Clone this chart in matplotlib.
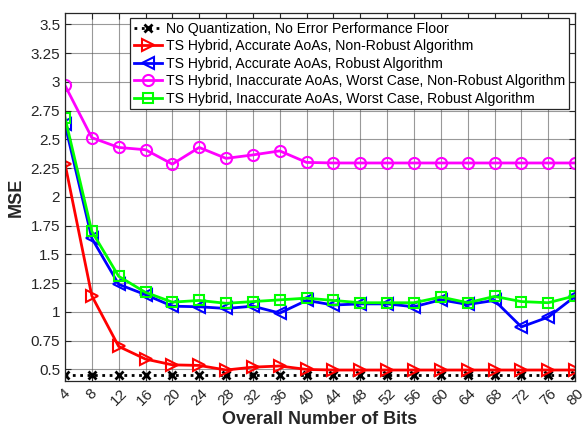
import matplotlib.pyplot as plt

# Data
bits = [4, 8, 12, 16, 20, 24, 28, 32, 36, 40, 44, 48, 52, 56, 60, 64, 68, 72, 76, 80]

floor_mse = [0.45] * len(bits)
acc_nonrobust = [2.29, 1.14, 0.70, 0.59, 0.54, 0.535, 0.495, 0.52, 0.53, 0.50,
                 0.495, 0.495, 0.495, 0.495, 0.495, 0.495, 0.495, 0.495, 0.495, 0.495]
acc_robust = [2.63, 1.64, 1.24, 1.15, 1.05, 1.045, 1.03, 1.05, 0.99, 1.10,
              1.06, 1.07, 1.07, 1.045, 1.105, 1.065, 1.10, 0.87, 0.955, 1.135]
inacc_nonrobust = [2.97, 2.515, 2.43, 2.41, 2.285, 2.43, 2.335, 2.365, 2.40, 2.30,
                   2.295, 2.295, 2.295, 2.295, 2.295, 2.295, 2.295, 2.295, 2.295, 2.295]
inacc_robust = [2.69, 1.70, 1.31, 1.17, 1.085, 1.10, 1.075, 1.09, 1.105, 1.12,
                1.10, 1.08, 1.08, 1.08, 1.13, 1.08, 1.135, 1.09, 1.08, 1.14]

labels = [
    'No Quantization, No Error Performance Floor',
    'TS Hybrid, Accurate AoAs, Non-Robust Algorithm',
    'TS Hybrid, Accurate AoAs, Robust Algorithm',
    'TS Hybrid, Inaccurate AoAs, Worst Case, Non-Robust Algorithm',
    'TS Hybrid, Inaccurate AoAs, Worst Case, Robust Algorithm',
]

plt.rcParams['font.family'] = ['Liberation Sans', 'DejaVu Sans']

fig = plt.figure(figsize=(5.88, 4.29), dpi=100)
ax = fig.add_axes([0.1105, 0.112, 0.8675, 0.858])

ax.plot(bits, floor_mse, color='black', linestyle=':', linewidth=2,
        marker='x', markersize=6, markeredgewidth=2, label=labels[0])
ax.plot(bits, acc_nonrobust, color='#ff0000', linewidth=2, marker='>',
        markersize=8, markerfacecolor='none', markeredgewidth=1.5, label=labels[1])
ax.plot(bits, acc_robust, color='#0000ff', linewidth=2, marker='<',
        markersize=8, markerfacecolor='none', markeredgewidth=1.5, label=labels[2])
ax.plot(bits, inacc_nonrobust, color='#ff00ff', linewidth=2, marker='o',
        markersize=8, markerfacecolor='none', markeredgewidth=1.5, label=labels[3])
ax.plot(bits, inacc_robust, color='#00ff00', linewidth=2, marker='s',
        markersize=6.5, markerfacecolor='none', markeredgewidth=1.5, label=labels[4])

ax.set_xlim(4, 80)
ax.set_ylim(0.4, 3.6)
ax.set_xticks(bits)
ax.set_xticklabels([str(b) for b in bits], rotation=45, ha='center', fontsize=11)
yt = [0.5, 0.75, 1, 1.25, 1.5, 1.75, 2, 2.25, 2.5, 2.75, 3, 3.25, 3.5]
ax.set_yticks(yt)
ax.set_yticklabels([f'{v:g}' for v in yt], fontsize=11)
ax.tick_params(direction='in', top=True, right=True, length=4, colors='#262626')

ax.grid(True, color='#555555', linewidth=0.8, alpha=0.6)
for s in ax.spines.values():
    s.set_color('#262626')
    s.set_linewidth(0.9)

ax.set_xlabel('Overall Number of Bits', fontsize=13, fontweight='bold', color='#262626',
              labelpad=2)
ax.set_ylabel('MSE', fontsize=13, fontweight='bold', color='#262626', labelpad=4)

leg = ax.legend(loc='upper right', bbox_to_anchor=(0.988, 0.986), borderaxespad=0,
                fontsize=10.1, fancybox=False, framealpha=1, edgecolor='#262626',
                handlelength=2, handletextpad=0.3, labelspacing=0.25, borderpad=0.25)
leg.get_frame().set_linewidth(0.9)

fig.savefig('out.png', dpi=100)
